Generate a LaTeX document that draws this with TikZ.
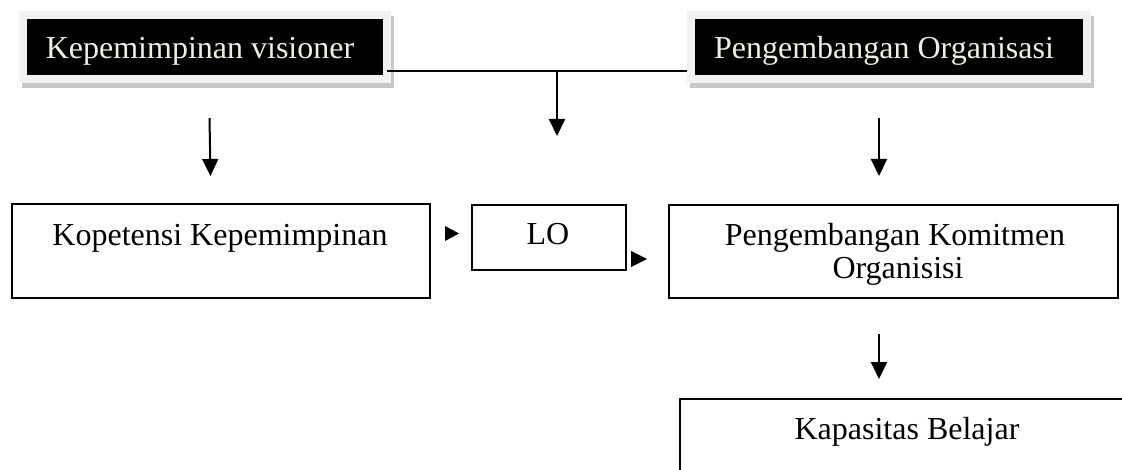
\documentclass[tikz,border=0pt]{standalone}
\usepackage{fontspec}
\setmainfont{Liberation Serif}
\usetikzlibrary{arrows.meta}
\definecolor{frameg}{RGB}{242,242,242}
\definecolor{shadowg}{RGB}{200,200,200}
\definecolor{creamtext}{RGB}{240,238,228}
\tikzset{
  frame/.style={fill=frameg, draw=none, inner sep=0pt, anchor=north west,
    minimum width=#1, minimum height=36pt},
  shadowbox/.style={fill=shadowg, draw=none, inner sep=0pt, anchor=north west,
    minimum width=#1, minimum height=36pt},
  blackbox/.style={fill=black, draw=none, inner sep=0pt, anchor=north west,
    minimum width=#1, minimum height=28pt},
  plainbox/.style={draw=black, line width=1pt, fill=white, inner sep=0pt, anchor=north west},
  lbl/.style={font=\fontsize{16}{16.5}\selectfont, inner sep=0pt, anchor=base},
  wlbl/.style={lbl, text=creamtext},
  arr/.style={draw=black, line width=1pt, -{Triangle[length=8.5pt,width=8pt]}},
  conn/.style={draw=black, line width=0.9pt},
  tri/.style={fill=black}
}
\begin{document}
\begin{tikzpicture}[x=0.5pt,y=-0.5pt]
\useasboundingbox[fill=white] (0,0) rectangle (1122,470);
% top-left emphasised box
\node[shadowbox=186pt] (kvs) at (22,16) {};
\node[frame=186pt] (kvf) at (19,11) {};
\node[blackbox=178pt] (kvb) at (27,19) {};
\node[wlbl] (kvt) at (200,59) {Kepemimpinan visioner};
% top-right emphasised box
\node[shadowbox=202pt] (pos) at (690,16) {};
\node[frame=202pt] (pof) at (687,11) {};
\node[blackbox=194pt] (pob) at (695,19) {};
\node[wlbl] (pot) at (884,59) {Pengembangan Organisasi};
% middle row boxes
\node[plainbox, minimum width=209pt, minimum height=47pt] (kop) at (11,203) {};
\node[lbl] (kopt) at (220,245) {Kopetensi Kepemimpinan};
\node[plainbox, minimum width=77pt, minimum height=32.5pt] (lo) at (471,204) {};
\node[lbl] (lot) at (548,244) {LO};
\node[plainbox, minimum width=224.5pt, minimum height=46.5pt] (pk) at (668,204) {};
\node[lbl] (pkt1) at (895,245) {Pengembangan Komitmen};
\node[lbl] (pkt2) at (898,278) {Organisisi};
% bottom box (runs past the page edge)
\node[plainbox, minimum width=240pt, minimum height=50pt] (kb) at (679,398) {};
\node[lbl] (kbt) at (907,439) {Kapasitas Belajar};
% connector between the two top boxes
\coordinate (j) at (557,71);
\coordinate (jl) at (387,71);
\coordinate (jr) at (687,71);
\draw[conn] (jl) -- (jr);
\coordinate (jm) at (557,136);
\draw[arr] (j) -- (jm);
% vertical arrows
\coordinate (a1s) at (209.5,118);
\coordinate (a1e) at (210.5,176);
\draw[arr] (a1s) -- (a1e);
\coordinate (a2s) at (879,118);
\coordinate (a2e) at (879,176);
\draw[arr] (a2s) -- (a2e);
\coordinate (a3s) at (879,334);
\coordinate (a3e) at (879,379);
\draw[arr] (a3s) -- (a3e);
% loose arrowheads beside LO
\fill[tri] (445,226) -- (459,233.5) -- (445,241) -- cycle;
\fill[tri] (631,251) -- (647,259) -- (631,267) -- cycle;
\end{tikzpicture}
\end{document}
